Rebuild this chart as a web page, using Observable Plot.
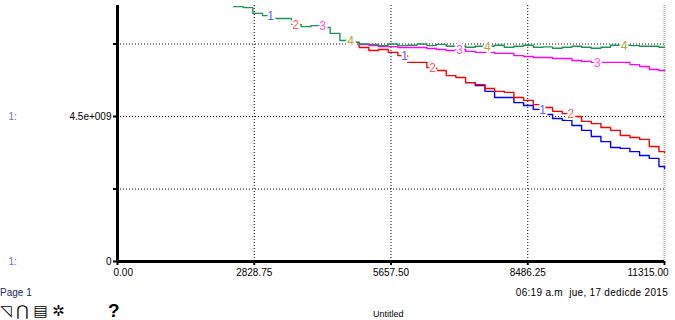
<!DOCTYPE html>
<html><head><meta charset="utf-8">
<script src="https://cdn.jsdelivr.net/npm/d3@7"></script>
<script src="https://cdn.jsdelivr.net/npm/@observablehq/plot@0.6"></script>
<style>
body{margin:0;background:#fff;font-family:"Liberation Sans",Arial,sans-serif;}
#wrap{position:relative;width:675px;height:320px;overflow:hidden;background:#fff;}
#chart{position:absolute;left:0;top:0;}
.ft{position:absolute;font-size:10px;white-space:pre;color:#000;line-height:12px;}
</style></head><body>
<div id="wrap"><div id="chart"></div>
<div class="ft" style="left:0;top:287px;color:#1c2a6a">Page 1</div>
<div class="ft" style="right:7px;top:287px;letter-spacing:0.3px">06:19 a.m  jue, 17 dedicde 2015</div>
<div class="ft" style="left:373px;top:308px;font-size:9px">Untitled</div>
<div class="ft" style="left:0;top:303px;font-size:15px;line-height:17px;font-family:'DejaVu Sans'">◹ ⋂ ▤ ✲</div>
<div class="ft" style="left:108px;top:301px;font-size:19px;line-height:20px;font-weight:bold">?</div>
</div>
<script>
const time = [2400,2600,2800,3000,3200,3400,3600,3800,4000,4200,4400,4600,4800,
  5000,5200,5400,5600,5800,6000,6200,6400,6600,6800,7000,7200,7400,
  7600,7800,8000,8200,8400,8600,8800,9000,9200,9400,9600,9800,10000,
  10200,10400,10600,10800,11000,11200,11315];
const series1 = [7.91e9,7.88e9,7.70e9,7.63e9,7.54e9,7.54e9,7.36e9,7.29e9,7.32e9,7.26e9,7.08e9,6.86e9,6.80e9,
  6.64e9,6.55e9,6.58e9,6.49e9,6.39e9,6.18e9,6.18e9,6.02e9,5.93e9,5.77e9,5.71e9,5.55e9,5.46e9,
  5.28e9,5.09e9,5.09e9,4.93e9,4.84e9,4.72e9,4.56e9,4.44e9,4.38e9,4.22e9,4.07e9,3.88e9,3.72e9,
  3.54e9,3.51e9,3.41e9,3.29e9,3.20e9,2.95e9,2.89e9];
const series2 = [7.91e9,7.88e9,7.70e9,7.63e9,7.54e9,7.54e9,7.36e9,7.29e9,7.32e9,7.26e9,7.08e9,6.86e9,6.80e9,
  6.64e9,6.55e9,6.58e9,6.49e9,6.39e9,6.18e9,6.18e9,6.02e9,5.93e9,5.77e9,5.71e9,5.55e9,5.49e9,
  5.37e9,5.28e9,5.25e9,5.09e9,5.00e9,4.87e9,4.78e9,4.66e9,4.59e9,4.50e9,4.35e9,4.28e9,4.16e9,
  4.07e9,3.91e9,3.85e9,3.79e9,3.57e9,3.41e9,3.38e9];
const series3 = [7.91e9,7.88e9,7.70e9,7.63e9,7.54e9,7.54e9,7.36e9,7.29e9,7.32e9,7.26e9,7.08e9,6.86e9,6.80e9,
  6.73e9,6.70e9,6.67e9,6.67e9,6.64e9,6.64e9,6.64e9,6.61e9,6.58e9,6.55e9,6.58e9,6.52e9,6.49e9,
  6.49e9,6.46e9,6.46e9,6.39e9,6.36e9,6.33e9,6.33e9,6.30e9,6.30e9,6.24e9,6.21e9,6.18e9,6.18e9,
  6.18e9,6.18e9,6.11e9,6.05e9,5.96e9,5.93e9,5.93e9];
const series4 = [7.91e9,7.88e9,7.70e9,7.63e9,7.54e9,7.54e9,7.36e9,7.29e9,7.32e9,7.26e9,7.08e9,6.86e9,6.80e9,
  6.75e9,6.74e9,6.70e9,6.75e9,6.70e9,6.71e9,6.75e9,6.70e9,6.74e9,6.68e9,6.69e9,6.65e9,6.68e9,
  6.68e9,6.71e9,6.65e9,6.68e9,6.71e9,6.65e9,6.66e9,6.62e9,6.65e9,6.68e9,6.65e9,6.62e9,6.65e9,
  6.71e9,6.71e9,6.70e9,6.68e9,6.68e9,6.65e9,6.66e9];
const seriesNames = ["1","2","3","4"];
const labelTimes = [[3124,5896,8750],[3641,6475,9330],[4199,7033,9885],[4778,7610,10440]];
const yTicks = [0,2.25e9,4.5e9,6.75e9];
const yTickLabels = ["0","","4.5e+009",""];
const scaleLabelTicks = [0,4.5e9];
const xTicks = [0,2828.75,5657.5,8486.25,11315];
const xTickLabels = ["0.00","2828.75","5657.50","8486.25","11315.00"];
const yMax = 7.945e9;

const lineColors = ["#0000ff","#ff0000","#ff00ff","#1b9454"];
const labelColors = ["#5c5cff","#ff5c5c","#ff4cff","#a9a83a"];

const values = [series1,series2,series3,series4];
// where a series coincides with one drawn later, skip the shared prefix (it is hidden anyway)
const startIdx = values.map((vals, s) => {
  let k = 0;
  for (let s2 = s + 1; s2 < values.length; s2++) {
    let m = 0;
    while (m < vals.length && vals[m] === values[s2][m]) m++;
    k = Math.max(k, m);
  }
  return Math.max(0, k - 1);
});
const rows = [];
values.forEach((vals,s)=>time.forEach((t,j)=>{ if (j >= startIdx[s]) rows.push({t, v: vals[j], s}); }));
const labelRows = [];
labelTimes.forEach((lts,s)=>lts.forEach(lt=>{
  const j = d3.bisectRight(time, lt) - 1;
  labelRows.push({t: lt, v: values[s][j], s, text: seriesNames[s]});
}));
const xl = xTicks.map((t,i)=>({t, text: xTickLabels[i], i}));

const chart = Plot.plot({
  width: 675, height: 285,
  marginLeft: 117, marginRight: 11, marginTop: 5, marginBottom: 24,
  style: {fontFamily: "'Liberation Sans', Arial, sans-serif", fontSize: "10px", background: "#fff"},
  x: {domain: [0, 11315]},
  y: {domain: [0, yMax]},
  marks: [
    Plot.ruleY(yTicks.slice(1), {stroke: "#000", strokeDasharray: "1,2", strokeWidth: 1}),
    Plot.ruleX(xTicks.slice(1, 4), {stroke: "#000", strokeDasharray: "1,2", strokeWidth: 1}),
    Plot.ruleX([xTicks[4]], {stroke: "#aaa", strokeDasharray: "1,1", strokeWidth: 2}),
    Plot.line(rows, {x: "t", y: "v", z: "s", stroke: d => lineColors[d.s], curve: "step-after", strokeWidth: 1.4}),
    Plot.text(labelRows, {x: "t", y: "v", text: "text", fill: d => labelColors[d.s], stroke: "white", strokeWidth: 4, paintOrder: "stroke", fontSize: 12, dx: 2, dy: 1}),
    Plot.ruleX([0], {stroke: "#000", strokeWidth: 3}),
    Plot.ruleY([0], {stroke: "#000", strokeWidth: 3}),
    Plot.axisY({ticks: yTicks, tickFormat: d => yTickLabels[yTicks.indexOf(d)], tickSize: 4, tickPadding: 2, strokeWidth: 2, fontSize: 10, label: null}),
    Plot.axisX({ticks: xTicks, tickFormat: () => "", tickSize: 4, strokeWidth: 2, label: null}),
    Plot.text(xl.filter(d => d.i === 0), {x: "t", y: 0, text: "text", textAnchor: "start", dx: -4, dy: 11, fontSize: 10}),
    Plot.text(xl.filter(d => d.i > 0 && d.i < 4), {x: "t", y: 0, text: "text", textAnchor: "middle", dy: 11, fontSize: 10}),
    Plot.text(xl.filter(d => d.i === 4), {x: "t", y: 0, text: "text", textAnchor: "end", dx: 4, dy: 11, fontSize: 10}),
    Plot.text(scaleLabelTicks, {x: 0, y: d => d, text: () => "1:", textAnchor: "start", dx: -109, fill: "#6a6af0", fontSize: 10})
  ]
});
document.getElementById("chart").appendChild(chart);
</script>
</body></html>
